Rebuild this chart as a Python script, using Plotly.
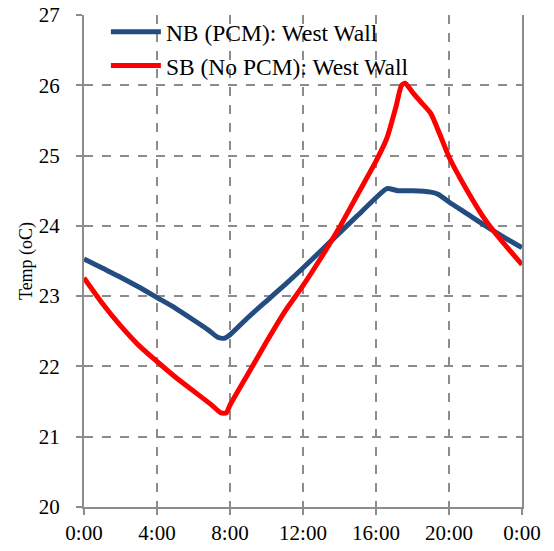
import plotly.graph_objects as go

hours_nb = [0, 1, 2, 3, 4, 5, 6, 6.8, 7.3, 7.7, 8, 9, 10, 11, 12, 13, 14, 15, 16, 16.6,
            17.2, 18, 19, 19.4, 20, 21, 22, 23, 24]
temp_nb = [23.53, 23.40, 23.27, 23.13, 22.98, 22.83, 22.66, 22.52, 22.42, 22.40, 22.45,
           22.70, 22.93, 23.16, 23.40, 23.65, 23.90, 24.15, 24.40, 24.53,
           24.50, 24.50, 24.48, 24.45, 24.34, 24.17, 24.00, 23.84, 23.69]

hours_sb = [0, 1, 2, 3, 4, 5, 6, 7, 7.5, 7.8, 8, 9, 10, 11, 12, 13, 14, 15, 16, 16.6,
            17.1, 17.4, 17.6, 18, 18.5, 19, 19.5, 20, 21, 22, 23, 24]
temp_sb = [23.26, 22.90, 22.58, 22.30, 22.07, 21.85, 21.65, 21.45, 21.34, 21.34, 21.45,
           21.90, 22.35, 22.78, 23.15, 23.55, 23.98, 24.45, 24.92, 25.25,
           25.70, 26.00, 26.03, 25.90, 25.75, 25.60, 25.30, 24.98, 24.50, 24.08, 23.75, 23.45]

tick_vals = [0, 4, 8, 12, 16, 20, 24]
tick_text = ["0:00", "4:00", "8:00", "12:00", "16:00", "20:00", "0:00"]

font = "Liberation Serif, Times New Roman, serif"
grid = "#8c8c8c"

fig = go.Figure()
fig.add_trace(go.Scatter(x=hours_nb, y=temp_nb, mode="lines", name="NB (PCM): West Wall",
                         line=dict(color="#234C80", width=5, shape="spline", smoothing=0.6)))
fig.add_trace(go.Scatter(x=hours_sb, y=temp_sb, mode="lines", name="SB (No PCM): West Wall",
                         line=dict(color="#FF0000", width=5, shape="spline", smoothing=0.6)))

fig.update_layout(
    width=546, height=543,
    margin=dict(l=76, r=32, t=7, b=44, autoexpand=False),
    plot_bgcolor="white", paper_bgcolor="white",
    font=dict(family=font, size=21, color="black"),
    showlegend=True,
    legend=dict(x=0.05, y=1.01, xanchor="left", yanchor="top", bgcolor="rgba(0,0,0,0)",
                font=dict(family=font, size=23.5, color="black"), tracegroupgap=0,
                itemwidth=50),
    xaxis=dict(range=[0, 24], tickvals=tick_vals, ticktext=tick_text, automargin=False,
               ticklabeloverflow="allow",
               showgrid=True, gridcolor=grid, griddash="dash", gridwidth=1.5,
               showline=True, linecolor=grid, linewidth=2,
               ticks="outside", ticklen=6, tickcolor=grid, tickwidth=2,
               zeroline=False, tickfont=dict(size=21)),
    yaxis=dict(range=[20, 27], dtick=1, automargin=False, ticklabeloverflow="allow",
               showgrid=True, gridcolor=grid, griddash="dash", gridwidth=1.5,
               showline=True, linecolor=grid, linewidth=2, mirror=True,
               ticks="outside", ticklen=6, tickcolor=grid, tickwidth=2,
               zeroline=False, tickfont=dict(size=21), ticklabelstandoff=12,
               title=dict(text="Temp (oC)", font=dict(size=18, color="black"), standoff=1)),
)

fig.write_html("out.html")
